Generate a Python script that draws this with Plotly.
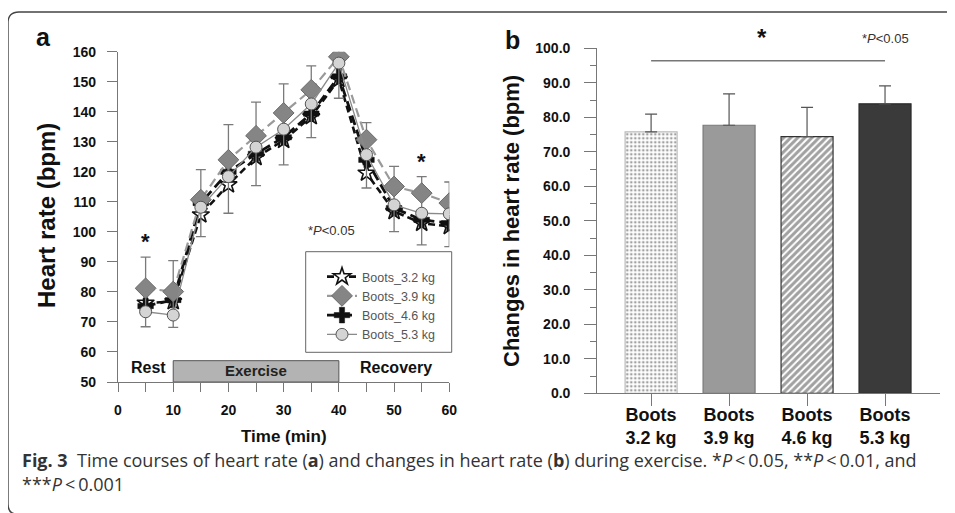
import plotly.graph_objects as go

W, H = 955, 513
OX, OY = 8, 8  # page offset of the figure inside the window

# ---------------- data : panel a ----------------
time_min = [5, 10, 15, 20, 25, 30, 35, 40, 45, 50, 55, 60]
hr_32 = [76.3, 76.8, 105.7, 115.7, 124.8, 130.5, 138.4, 150.8, 119.6, 106.8, 102.9, 101.8]
hr_39 = [81.2, 80.1, 110.7, 124.0, 132.0, 139.6, 147.3, 158.3, 130.7, 115.1, 112.9, 109.6]
hr_46 = [75.3, 77.3, 109.6, 120.0, 126.0, 131.5, 139.4, 151.8, 124.0, 107.9, 104.0, 102.9]
hr_53 = [73.4, 72.3, 108.2, 118.4, 128.2, 134.2, 142.6, 156.2, 125.7, 109.0, 106.2, 106.0]
err_hi = [91.6, 90.4, 120.7, 135.7, 143.2, 149.3, 155.3, 164.3, 136.4, 121.8, 118.4, 116.6]
err_lo = [68.4, 68.2, 98.4, 106.2, 115.4, 122.3, 131.4, 144.5, 114.6, 100.1, 95.7, 95.1]
series_names = ["Boots_3.2 kg", "Boots_3.9 kg", "Boots_4.6 kg", "Boots_5.3 kg"]
sig_times = [5, 55]
sig_y = [96.8, 123.4]
a_xticks = [0, 5, 10, 15, 20, 25, 30, 35, 40, 45, 50, 55, 60]
a_xticklabels = ["0", "", "10", "", "20", "", "30", "", "40", "", "50", "", "60"]
a_yticks = [50, 60, 70, 80, 90, 100, 110, 120, 130, 140, 150, 160]
phase_labels = ["Rest", "Exercise", "Recovery"]
exercise_start, exercise_end, exercise_top = 10, 40, 57.1

# ---------------- data : panel b ----------------
categories = ["Boots<br>3.2 kg", "Boots<br>3.9 kg", "Boots<br>4.6 kg", "Boots<br>5.3 kg"]
delta_hr = [75.8, 77.7, 74.4, 83.9]
delta_sd = [5.1, 9.1, 8.5, 5.2]
b_yticks = [0, 10, 20, 30, 40, 50, 60, 70, 80, 90, 100]
b_yticklabels = ["%.1f" % v for v in b_yticks]
sig_line_y = 96.4

# ---------------- styling helpers ----------------
ARIAL = "Liberation Sans, Arial, sans-serif"
CAPF = "Open Sans, Noto Sans, sans-serif"
AXC = "#777777"


def px(x):
    return (x - OX) / W


def py(y):
    return 1 - (y - OY) / H


fig = go.Figure()

err_color = "#7a7a7a"
fig.add_trace(go.Scatter(
    x=time_min, y=hr_32, name=series_names[0], legendrank=1,
    mode="lines+markers",
    line=dict(color="#111111", width=2.6, dash="7px,4px"),
    marker=dict(symbol="star", size=13, color="white", line=dict(color="#111111", width=1.6)),
))
fig.add_trace(go.Scatter(
    x=time_min, y=hr_46, name=series_names[2], legendrank=3,
    mode="lines+markers",
    line=dict(color="#111111", width=2.8, dash="10px,5px"),
    marker=dict(symbol="cross", size=13, color="#111111", line=dict(color="#111111", width=0.5)),
))
fig.add_trace(go.Scatter(
    x=time_min, y=hr_39, name=series_names[1], legendrank=2,
    mode="lines+markers",
    line=dict(color="#9a9a9a", width=2.2, dash="9px,5px"),
    marker=dict(symbol="diamond", size=16, color="#858585", line=dict(color="#6a6a6a", width=1)),
    error_y=dict(type="data", symmetric=False,
                 array=[h - v for h, v in zip(err_hi, hr_39)],
                 arrayminus=[v - l for v, l in zip(hr_39, err_lo)],
                 color=err_color, thickness=1.3, width=5),
))
fig.add_trace(go.Scatter(
    x=time_min, y=hr_53, name=series_names[3], legendrank=4,
    mode="lines+markers",
    line=dict(color="#8a8a8a", width=1.3),
    marker=dict(symbol="circle", size=12, color="#d4d4d4", line=dict(color="#555555", width=1)),
))

# ---------------- panel b bars ----------------
fig.add_trace(go.Bar(
    x=categories, y=delta_hr, xaxis="x2", yaxis="y2", showlegend=False,
    width=0.667,
    marker=dict(
        color=["#ffffff", "#9a9a9a", "#ffffff", "#3a3a3a"],
        line=dict(color=["#bbbbbb", "#7a7a7a", "#333333", "#2a2a2a"], width=1.2),
        pattern=dict(shape=[".", "", "/", ""],
                     fgcolor=["#b5b5b5", "#9a9a9a", "#000000", "#3a3a3a"],
                     bgcolor=["#ffffff", "#9a9a9a", "#ffffff", "#3a3a3a"],
                     size=[4, 8, 5, 8], solidity=[0.35, 0.3, 0.6, 0.3]),
    ),
    error_y=dict(type="data", symmetric=False, array=delta_sd, arrayminus=[0] * 4,
                 color="#555555", thickness=1.2, width=6),
))

tickfont = dict(family=ARIAL, size=14, color="#111111", weight="bold")

fig.update_layout(
    width=W, height=H,
    margin=dict(l=0, r=0, t=0, b=0, pad=0, autoexpand=False),
    paper_bgcolor="white", plot_bgcolor="rgba(0,0,0,0)",
    font=dict(family=ARIAL, color="#111111"),
    xaxis=dict(domain=[px(118), px(449.3)], range=[0, 60], anchor="y", automargin=False,
               tickmode="array", tickvals=a_xticks, ticktext=a_xticklabels,
               ticks="outside", ticklen=9, tickcolor=AXC, tickwidth=1.2,
               showline=True, linecolor=AXC, linewidth=1.3, showgrid=False, zeroline=False,
               tickfont=tickfont, ticklabelstandoff=6),
    yaxis=dict(domain=[py(382), py(51.7)], range=[50, 160], anchor="x", automargin=False,
               tickmode="array", tickvals=a_yticks,
               ticks="outside", ticklen=10, tickcolor=AXC, tickwidth=1.2,
               showline=True, linecolor=AXC, linewidth=1.3, showgrid=False, zeroline=False,
               tickfont=tickfont, ticklabelstandoff=8),
    xaxis2=dict(domain=[px(597.3), px(940)], range=[-0.69, 3.705], anchor="y2", automargin=False,
                type="category", categoryorder="array", categoryarray=categories,
                ticks="outside", ticklen=12, tickcolor=AXC, tickwidth=1.2,
                showline=True, linecolor=AXC, linewidth=1.3, showgrid=False, zeroline=False,
                tickfont=dict(family=ARIAL, size=18, color="#111111", weight="bold"),
                ticklabelstandoff=-7),
    yaxis2=dict(domain=[py(393.3), py(48.3)], range=[0, 100], anchor="x2", automargin=False,
                tickmode="array", tickvals=b_yticks, ticktext=b_yticklabels,
                ticks="outside", ticklen=12, tickcolor=AXC, tickwidth=1.2,
                minor=dict(ticks="outside", ticklen=6, dtick=5, tickcolor=AXC, tickwidth=1.2),
                showline=True, linecolor=AXC, linewidth=1.3, showgrid=False, zeroline=False,
                tickfont=tickfont, ticklabelstandoff=11),
    legend=dict(x=px(322), y=py(262), xanchor="left", yanchor="top",
                bgcolor="rgba(0,0,0,0)", borderwidth=0,
                font=dict(family=ARIAL, size=12.5, color="#555555"),
                tracegroupgap=0, itemwidth=30),
    showlegend=True,
)

shapes = [
    dict(type="rect", xref="x", yref="y", x0=exercise_start, x1=exercise_end, y0=50, y1=exercise_top,
         fillcolor="#b3b3b3", line=dict(color="#555555", width=1), layer="below"),
    dict(type="rect", xref="paper", yref="paper", x0=px(305.7), x1=px(451.7), y0=py(352.3), y1=py(251.7),
         line=dict(color="#666666", width=1), fillcolor="rgba(0,0,0,0)"),
    dict(type="line", xref="x2", yref="y2", x0=0, x1=3, y0=sig_line_y, y1=sig_line_y,
         line=dict(color="#777777", width=1.5)),
    dict(type="path", xref="paper", yref="paper",
         path=("M %f,%f L %f,%f Q %f,%f %f,%f L %f,%f Q %f,%f %f,%f" % (
             px(960), py(12), px(19), py(12), px(8), py(12), px(8), py(23),
             px(8), py(504), px(8), py(514), px(17), py(514))),
         line=dict(color="#444444", width=1.4)),
]


def note(x, y, text, size, color="#111111", bold=True, xref="paper", yref="paper", angle=0,
         xanchor="center", family=ARIAL):
    f = dict(family=family, size=size, color=color)
    if bold:
        f["weight"] = "bold"
    return dict(x=x, y=y, xref=xref, yref=yref, text=text, showarrow=False, textangle=angle,
                xanchor=xanchor, yanchor="middle", font=f)


ann = [note(t, yv, "*", 22, xref="x", yref="y") for t, yv in zip(sig_times, sig_y)]
ann += [
    note(px(331), py(231), "*<i>P</i>&lt;0.05", 13, "#333333", bold=False),
    note(px(148.7), py(367.3), phase_labels[0], 16),
    note((exercise_start + exercise_end) / 2, py(370.7), phase_labels[1], 15, "#222222", xref="x"),
    note(px(396), py(367.3), phase_labels[2], 16),
    note(px(43), py(37), "a", 25),
    note(px(512), py(40), "b", 25),
    note(px(46), py(216), "Heart rate (bpm)", 24, angle=-90),
    note(px(283.6), py(436), "Time (min)", 17),
    note(px(511), py(221), "Changes in heart rate (bpm)", 22, angle=-90),
    note(1.42, py(37.3), "*", 24, xref="x2"),
    note(3, py(38), "*<i>P</i>&lt;0.05", 13, "#333333", bold=False, xref="x2"),
    note(px(20), py(460),
         "<b>Fig. 3</b>  Time courses of heart rate (<b>a</b>) and changes in heart rate (<b>b</b>) "
         "during exercise. *<i>P</i>\u2009&lt;\u20090.05, **<i>P</i>\u2009&lt;\u20090.01, and",
         18, "#333333", bold=False, xanchor="left", family=CAPF),
    note(px(20), py(484), "***<i>P</i>\u2009&lt;\u20090.001", 18, "#333333", bold=False, xanchor="left",
         family=CAPF),
]

fig.update_layout(shapes=shapes, annotations=ann)
fig.write_html("out.html")
